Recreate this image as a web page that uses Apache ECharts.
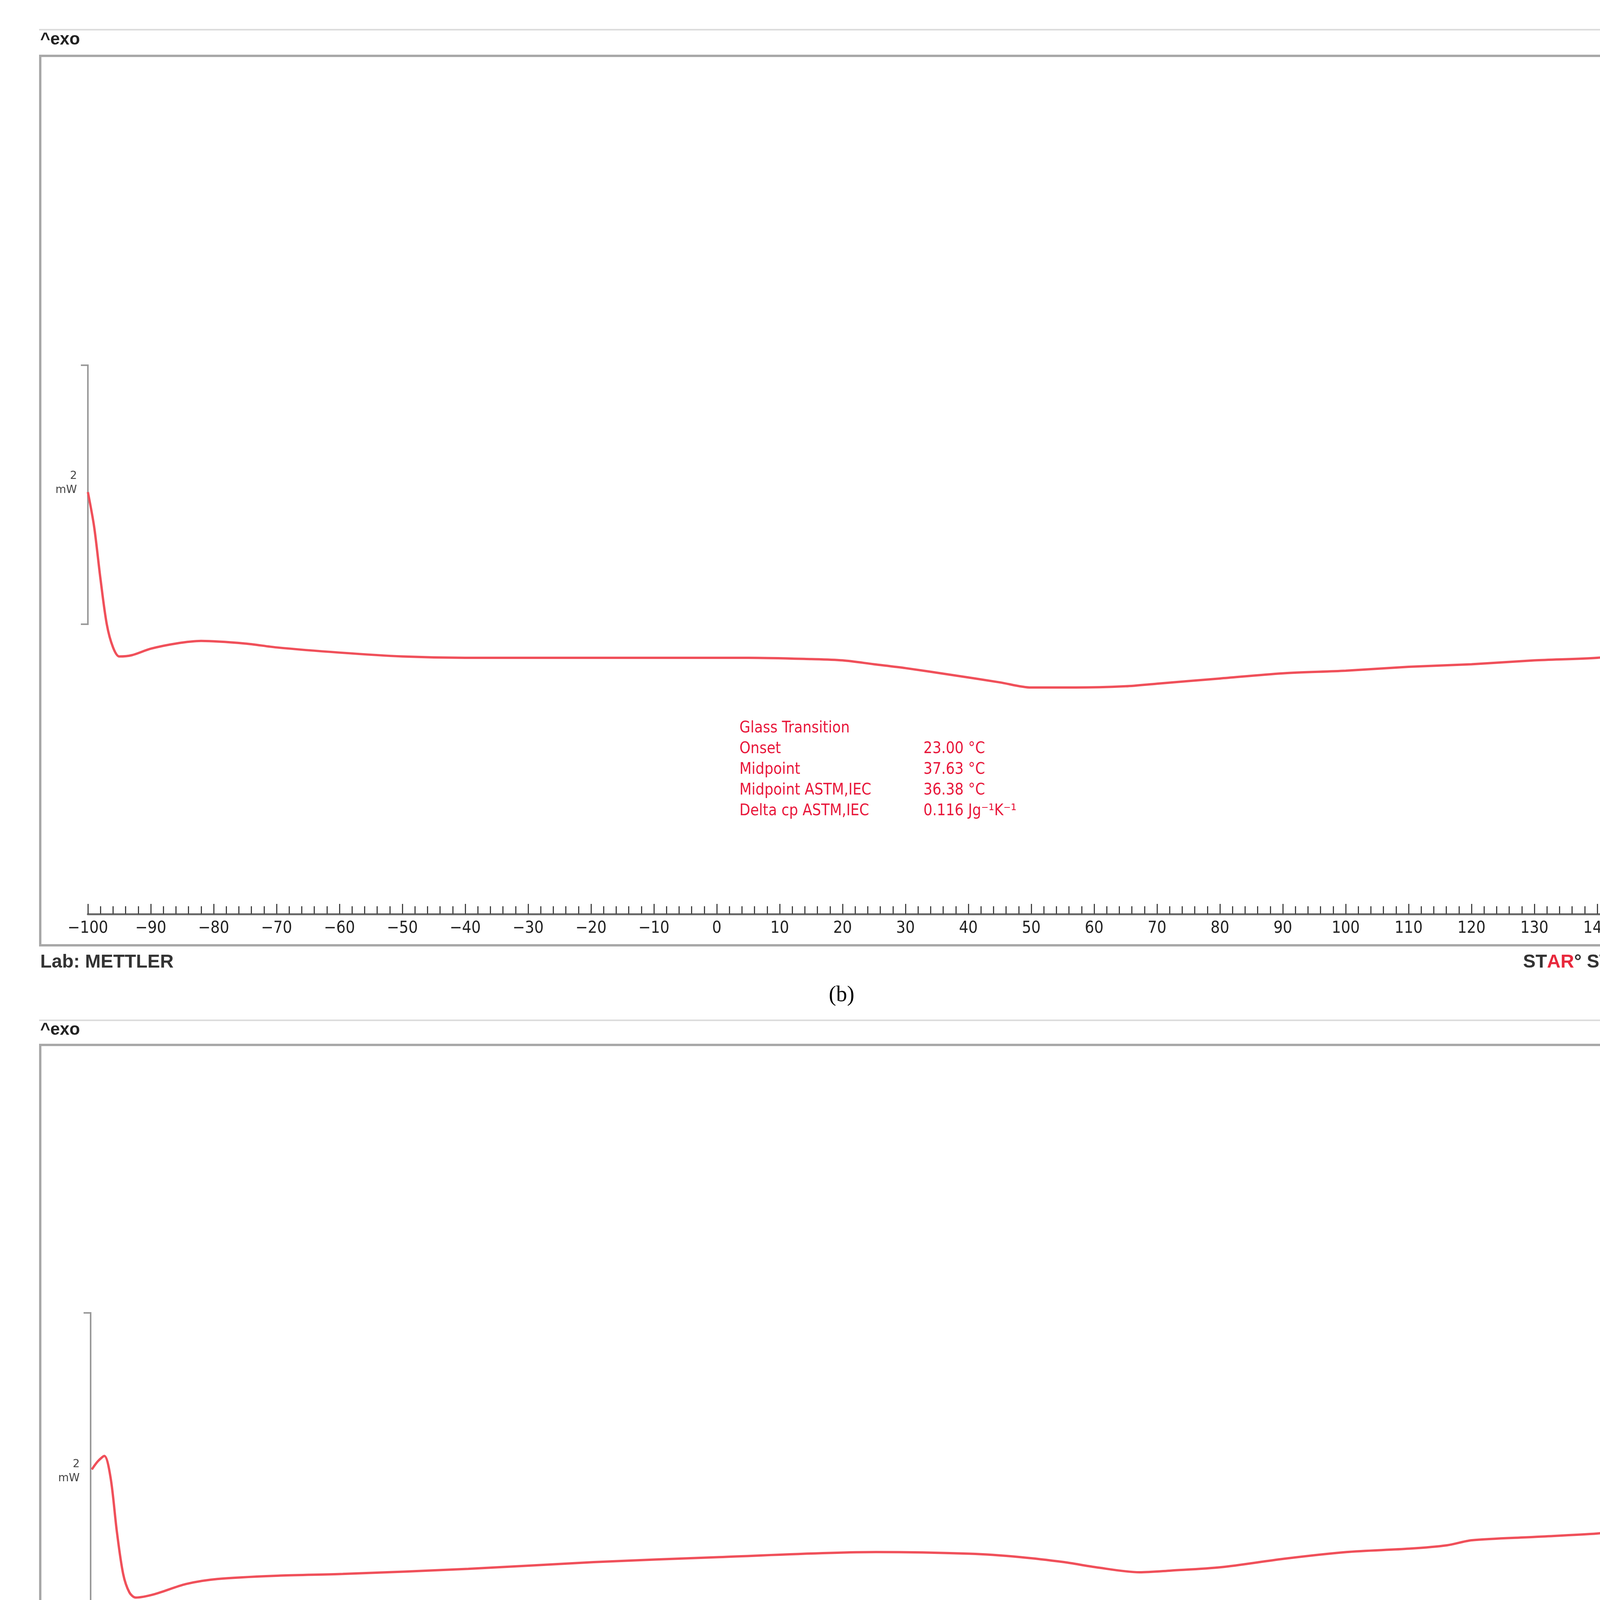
<!DOCTYPE html>
<html>
<head>
<meta charset="utf-8">
<script src="https://cdn.jsdelivr.net/npm/echarts@6/dist/echarts.min.js"></script>
<style>html,body{margin:0;padding:0;background:#fff}#main{width:4309px;height:5169px}</style>
</head>
<body>
<div id="main"></div>
<script>
// DSC curves, heat flow in mW (arbitrary offset)
var tempB = [-100, -99, -98, -97, -96, -95, -93, -90, -86, -82, -75, -70, -60, -50, -40, -20, 0, 5, 15, 20, 25, 30, 37, 45, 50, 53, 57, 65, 70, 80, 90, 100, 110, 120, 130, 140, 148];
var flowB = [1.02, 0.75, 0.35, 0.0, -0.18, -0.25, -0.24, -0.19, -0.15, -0.13, -0.15, -0.18, -0.22, -0.25, -0.26, -0.26, -0.26, -0.26, -0.27, -0.28, -0.31, -0.34, -0.39, -0.45, -0.49, -0.49, -0.49, -0.48, -0.46, -0.42, -0.38, -0.36, -0.33, -0.31, -0.28, -0.26, -0.22];
var tempC = [-100, -99, -98, -97, -96, -95, -94, -93, -90, -85, -80, -70, -60, -40, -20, 0, 25, 40, 48, 55, 60, 67, 72, 80, 90, 100, 110, 116, 120, 130, 140, 148];
var flowC = [1.07, 1.12, 1.15, 1.02, 0.7, 0.45, 0.34, 0.31, 0.33, 0.39, 0.42, 0.44, 0.45, 0.48, 0.52, 0.55, 0.58, 0.57, 0.55, 0.52, 0.49, 0.46, 0.47, 0.49, 0.54, 0.58, 0.60, 0.62, 0.65, 0.67, 0.69, 0.72];
var resultLabels = ['Onset', 'Midpoint', 'Midpoint ASTM,IEC', 'Delta cp ASTM,IEC'];
var resultsB = ['23.00 °C', '37.63 °C', '36.38 °C', '0.116 Jg⁻¹K⁻¹'];
var resultsC = ['47.51 °C', '60.02 °C', '56.92 °C', '62.002 × 10⁻³ Jg⁻¹K⁻¹'];

function pairs(xs, ys) { return xs.map(function (x, i) { return [x, ys[i]]; }); }

var RED = '#f0505a', TXT = '#e8173a', GREY = '#9a9a9a';
var NARROW = '"DejaVu Sans Condensed", "Liberation Sans Narrow", "Liberation Sans"';
var chart = echarts.init(document.getElementById('main'), null, { renderer: 'canvas' });

function xAxisCfg(idx) {
    return {
        gridIndex: idx, type: 'value', min: -100, max: 150, interval: 10,
        axisLine: { onZero: false, lineStyle: { color: '#6b6b6b', width: 5 } },
        axisTick: { inside: true, length: 26, lineStyle: { color: '#444', width: 3 } },
        minorTick: { show: true, splitNumber: 5, length: 20, lineStyle: { color: '#444', width: 3 } },
        splitLine: { show: false },
        axisLabel: {
            color: '#222', fontSize: 42, fontFamily: NARROW, margin: 16,
            formatter: function (v) { return v === 150 ? '°C' : String(v).replace('-', '−'); }
        }
    };
}

function textBlock(x, y, labels, values) {
    var f = '40px ' + NARROW;
    var els = [{ type: 'text', left: x, top: y, style: { text: 'Glass Transition', fill: TXT, font: f } }];
    labels.forEach(function (l, i) {
        els.push({ type: 'text', left: x, top: y + 53 * (i + 1), style: { text: l, fill: TXT, font: f } });
        els.push({ type: 'text', left: x + 471, top: y + 53 * (i + 1), style: { text: values[i], fill: TXT, font: f } });
    });
    return els;
}

function scaleBar(x, y1, y2, ly) {
    return [
        { type: 'polyline', shape: { points: [[x - 18, y1], [x, y1], [x, y2], [x - 18, y2]] }, style: { stroke: GREY, lineWidth: 4, fill: null } },
        { type: 'text', right: 4309 - x + 28, top: ly, style: { text: '2', fill: '#444', font: '28px "DejaVu Sans"', align: 'right' } },
        { type: 'text', right: 4309 - x + 28, top: ly + 36, style: { text: 'mW', fill: '#444', font: '28px "DejaVu Sans"', align: 'right' } }
    ];
}

function frame(top, bottom, ruleY, exoY, labY, capY, cap) {
    return [
        { type: 'line', shape: { x1: 100, y1: ruleY, x2: 4300, y2: ruleY }, style: { stroke: '#dcdcdc', lineWidth: 4 } },
        { type: 'text', left: 103, top: exoY, style: { text: '^exo', fill: '#222', font: 'bold 44px "Liberation Sans"' } },
        { type: 'rect', shape: { x: 103, y: top, width: 4177, height: bottom - top }, style: { stroke: '#a8a8a8', lineWidth: 6, fill: null } },
        { type: 'text', left: 103, top: labY, style: { text: 'Lab: METTLER', fill: '#333', font: 'bold 48px "Liberation Sans"' } },
        { type: 'text', right: 36, top: labY, style: {
            text: '{k|ST}{r|AR}{k|° SW 12.10}',
            rich: { k: { fill: '#333', font: 'bold 48px "Liberation Sans"' }, r: { fill: '#e8283c', font: 'bold 48px "Liberation Sans"' } }
        } },
        { type: 'text', left: 'center', top: capY, style: { text: cap, fill: '#000', font: '56px "Liberation Serif"' } }
    ];
}

var graphics = []
    .concat(frame(143, 2420, 76, 80, 2440, 2520, '(b)'))
    .concat(frame(2675, 4946, 2612, 2615, 4960, 5050, '(c)'))
    .concat(scaleBar(225, 935, 1598, 1205))
    .concat(scaleBar(232, 3361, 4223, 3735))
    .concat(textBlock(1893, 1845, resultLabels, resultsB))
    .concat(textBlock(2176, 4120, resultLabels, resultsC));

chart.setOption({
    animation: false,
    backgroundColor: '#fff',
    grid: [
        { left: 225, right: 59, top: 143, height: 2197 },
        { left: 235, right: 59, top: 2675, height: 2191 }
    ],
    xAxis: [xAxisCfg(0), xAxisCfg(1)],
    yAxis: [
        { gridIndex: 0, type: 'value', min: -2.24, max: 4.39, show: false },
        { gridIndex: 1, type: 'value', min: -1.49, max: 3.59, show: false }
    ],
    series: [
        { type: 'line', xAxisIndex: 0, yAxisIndex: 0, smooth: 0.3, symbol: 'none', data: pairs(tempB, flowB), lineStyle: { color: RED, width: 6 } },
        { type: 'line', xAxisIndex: 1, yAxisIndex: 1, smooth: 0.3, symbol: 'none', data: pairs(tempC, flowC), lineStyle: { color: RED, width: 6 } }
    ],
    graphic: graphics
});
</script>
</body>
</html>
